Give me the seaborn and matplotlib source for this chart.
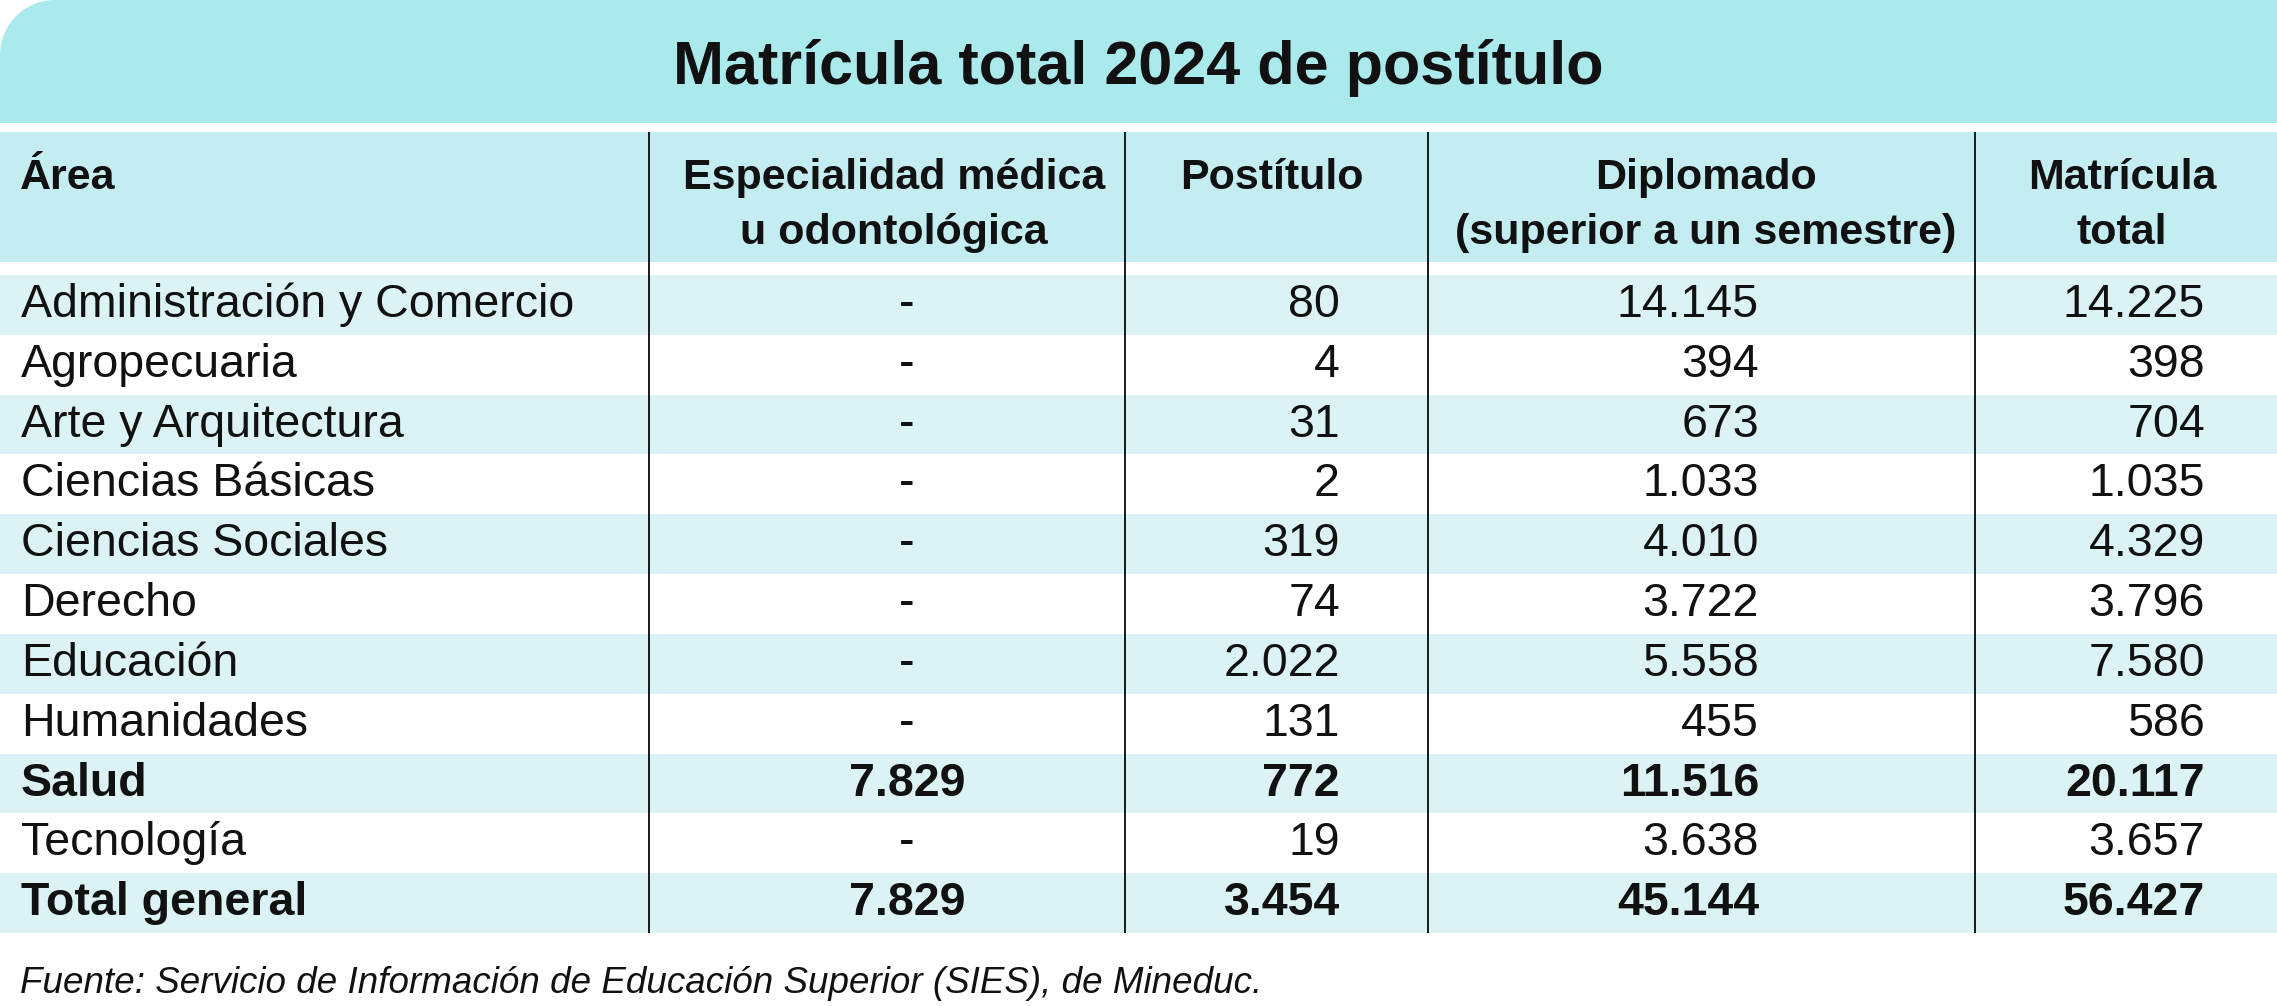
import numpy as np
import matplotlib
matplotlib.use("Agg")
import matplotlib.pyplot as plt
from matplotlib.patches import Rectangle, Circle
from matplotlib.colors import ListedColormap
import seaborn as sns

# ---------------- data ----------------
title = "Matrícula total 2024 de postítulo"
col_headers = ["Área", "Especialidad médica\nu odontológica", "Postítulo",
               "Diplomado\n(superior a un semestre)", "Matrícula\ntotal"]
areas = ["Administración y Comercio", "Agropecuaria", "Arte y Arquitectura",
         "Ciencias Básicas", "Ciencias Sociales", "Derecho", "Educación",
         "Humanidades", "Salud", "Tecnología", "Total general"]
especialidad = [None, None, None, None, None, None, None, None, 7829, None, 7829]
postitulo = [80, 4, 31, 2, 319, 74, 2022, 131, 772, 19, 3454]
diplomado = [14145, 394, 673, 1033, 4010, 3722, 5558, 455, 11516, 3638, 45144]
matricula_total = [14225, 398, 704, 1035, 4329, 3796, 7580, 586, 20117, 3657, 56427]
bold_rows = ["Salud", "Total general"]
source = "Fuente: Servicio de Información de Educación Superior (SIES), de Mineduc."

def fmt(v):
    if v is None:
        return "-"
    return f"{v:,}".replace(",", ".")

# ---------------- style ----------------
sns.set_theme(style="white")
plt.rcParams["font.family"] = ["Liberation Sans", "DejaVu Sans"]

W, H = 2277, 1006
TITLE_BG = "#AAEAEC"
HEAD_BG = "#C4EDF2"
STRIPE = "#DCF3F5"
TXT = "#111111"

fig = plt.figure(figsize=(W / 100, H / 100), dpi=100)
fig.patch.set_facecolor("white")

row_top, row_bot = 275, 933
n = len(areas)
row_h = (row_bot - row_top) / n

# stripes via seaborn heatmap
ax_s = fig.add_axes([0, (H - row_bot) / H, 1, (row_bot - row_top) / H])
stripe_matrix = np.array([[i % 2] for i in range(n)])
sns.heatmap(stripe_matrix, ax=ax_s, cmap=ListedColormap([STRIPE, "white"]),
            vmin=0, vmax=1, cbar=False, xticklabels=False, yticklabels=False)
ax_s.set_axis_off()

ax = fig.add_axes([0, 0, 1, 1])
ax.set_xlim(0, W)
ax.set_ylim(H, 0)
ax.set_axis_off()
ax.patch.set_alpha(0)

# title band with rounded top-left corner
r = 55
tb = 123
ax.add_patch(Circle((r, r), r, facecolor=TITLE_BG, edgecolor="none"))
ax.add_patch(Rectangle((r, 0), W - r, tb, facecolor=TITLE_BG, edgecolor="none"))
ax.add_patch(Rectangle((0, r), r + 1, tb - r, facecolor=TITLE_BG, edgecolor="none"))
ax.text(W / 2, 84, title, ha="center", va="baseline", fontsize=44,
        fontweight="bold", color=TXT)

# header band
h_top, h_bot = 132, 262
ax.add_patch(Rectangle((0, h_top), W, h_bot - h_top, facecolor=HEAD_BG, edgecolor="none"))

head_x = [20, 894, 1272, 1706, 2122]
head_ha = ["left", "center", "center", "center", "center"]
for hx, ha, lab in zip(head_x, head_ha, col_headers):
    lines = lab.split("\n")
    for k, line in enumerate(lines):
        ax.text(hx, 189 + 55 * k, line, ha=ha, va="baseline", fontsize=31,
                fontweight="bold", color=TXT)

# vertical separators
ax.vlines([649, 1125, 1428, 1975], h_top, row_bot, colors="#1a1a1a", linewidth=1.4)

# body
fs = 33.5
for i, area in enumerate(areas):
    y = row_top + i * row_h + 42
    w = "bold" if area in bold_rows else "normal"
    ax.text(21, y, area, ha="left", va="baseline", fontsize=fs, fontweight=w, color=TXT)
    ax.text(907, y, fmt(especialidad[i]), ha="center", va="baseline", fontsize=fs,
            fontweight=w, color=TXT)
    ax.text(1340, y, fmt(postitulo[i]), ha="right", va="baseline", fontsize=fs,
            fontweight=w, color=TXT)
    ax.text(1759, y, fmt(diplomado[i]), ha="right", va="baseline", fontsize=fs,
            fontweight=w, color=TXT)
    ax.text(2205, y, fmt(matricula_total[i]), ha="right", va="baseline", fontsize=fs,
            fontweight=w, color=TXT)

ax.text(20, 993, source, ha="left", va="baseline", fontsize=26.5, style="italic", color=TXT)

fig.savefig("out.png", dpi=100, facecolor="white")
